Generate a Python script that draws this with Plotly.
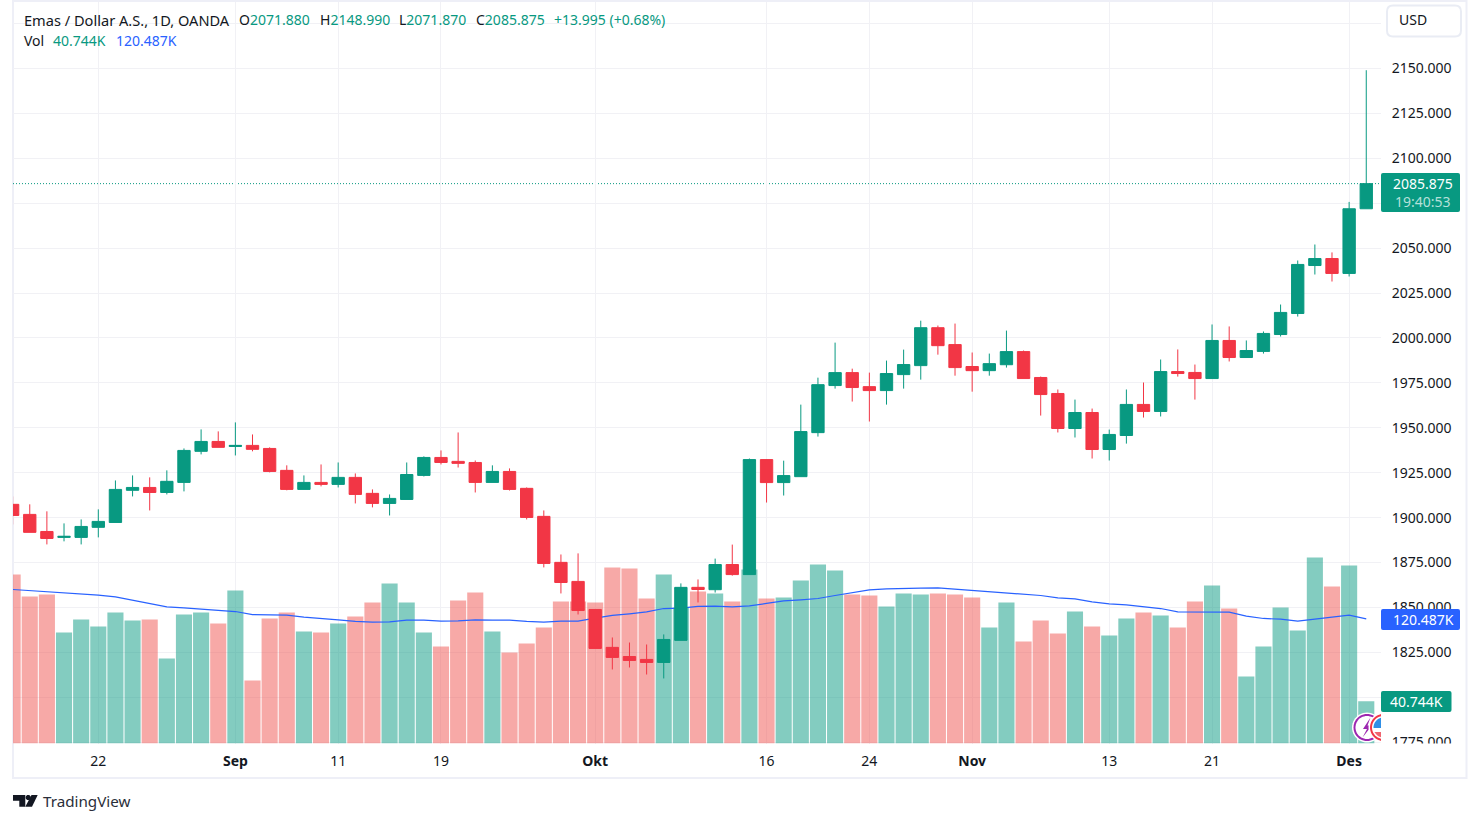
import numpy as np
import pandas as pd
import plotly.graph_objects as go

# daily gold candles
dates = pd.bdate_range("2023-08-15", periods=80).strftime("%Y-%m-%d").tolist()

opens = [
    1907.4, 1901.8, 1892.3, 1889.0, 1889.0, 1894.6, 1897.3, 1915.2, 1916.8, 1914.0,
    1919.6, 1936.9, 1942.4, 1939.6, 1940.2, 1938.5, 1926.3, 1915.7, 1919.6, 1918.5,
    1922.4, 1913.5, 1907.9, 1910.1, 1923.5, 1933.5, 1931.3, 1930.7, 1919.6, 1925.7,
    1916.3, 1900.7, 1875.1, 1864.5, 1848.9, 1827.8, 1822.7, 1821.1, 1819.4, 1831.7,
    1861.2, 1859.9, 1873.9, 1868.3, 1932.3, 1919.5, 1922.8, 1947.3, 1973.5, 1980.7,
    1972.9, 1970.7, 1979.6, 1984.6, 2005.7, 1996.3, 1984.1, 1981.8, 1985.1, 1992.4,
    1978.0, 1969.1, 1949.6, 1958.5, 1937.9, 1945.7, 1963.0, 1959.1, 1981.3, 1980.8,
    1977.4, 1998.6, 1989.1, 1992.5, 2001.9, 2013.6, 2040.3, 2044.2, 2035.9, 2071.88,
]
highs = [
    1911.8, 1907.4, 1903.5, 1896.8, 1899.0, 1904.6, 1920.7, 1923.5, 1922.4, 1926.3,
    1938.5, 1949.1, 1948.0, 1953.0, 1946.3, 1939.1, 1929.1, 1923.5, 1929.6, 1930.7,
    1924.6, 1915.7, 1912.9, 1930.7, 1934.1, 1937.4, 1947.4, 1931.8, 1929.1, 1927.4,
    1916.8, 1904.0, 1879.5, 1880.1, 1848.9, 1833.3, 1830.5, 1829.4, 1835.0, 1863.4,
    1865.6, 1877.2, 1885.0, 1932.9, 1932.3, 1931.7, 1962.9, 1977.9, 1997.4, 1982.9,
    1980.7, 1987.4, 1993.5, 2009.6, 2006.9, 2008.0, 1991.9, 1991.3, 2004.1, 1993.0,
    1978.5, 1971.3, 1965.7, 1960.7, 1949.0, 1971.3, 1975.2, 1988.0, 1993.6, 1985.2,
    2007.5, 2006.4, 1998.6, 2003.6, 2018.6, 2043.1, 2052.0, 2047.6, 2075.7, 2148.99,
]
lows = [
    1896.2, 1891.8, 1885.1, 1886.8, 1885.1, 1889.0, 1897.3, 1911.8, 1904.0, 1912.9,
    1914.6, 1935.2, 1939.1, 1934.6, 1936.9, 1925.2, 1915.2, 1915.7, 1917.4, 1916.8,
    1907.9, 1905.7, 1901.2, 1910.1, 1922.9, 1929.6, 1927.9, 1914.0, 1919.6, 1915.1,
    1899.0, 1872.3, 1857.8, 1846.1, 1827.2, 1815.5, 1816.6, 1812.7, 1810.5, 1831.7,
    1852.8, 1858.3, 1867.7, 1868.3, 1908.4, 1912.3, 1922.8, 1945.1, 1971.8, 1964.6,
    1953.5, 1962.9, 1971.8, 1976.8, 1990.7, 1979.0, 1970.1, 1979.0, 1983.5, 1977.4,
    1956.8, 1947.4, 1944.6, 1932.9, 1931.8, 1941.2, 1955.7, 1956.3, 1978.5, 1965.7,
    1977.4, 1986.9, 1989.1, 1991.3, 2000.8, 2011.9, 2035.3, 2031.4, 2034.2, 2071.87,
]
closes = [
    1901.2, 1891.8, 1888.4, 1889.6, 1895.1, 1897.9, 1915.7, 1916.8, 1914.0, 1920.2,
    1937.4, 1942.4, 1939.1, 1940.2, 1938.0, 1925.7, 1915.7, 1919.6, 1918.5, 1922.4,
    1912.9, 1907.9, 1910.7, 1924.0, 1933.5, 1930.7, 1930.2, 1919.6, 1925.7, 1915.7,
    1900.1, 1874.5, 1863.9, 1848.3, 1827.2, 1822.2, 1820.5, 1819.4, 1832.2, 1861.2,
    1860.0, 1873.9, 1868.3, 1932.3, 1919.5, 1923.4, 1947.9, 1974.0, 1980.7, 1972.4,
    1970.7, 1980.2, 1985.2, 2005.7, 1995.7, 1983.5, 1981.8, 1985.7, 1992.4, 1977.4,
    1968.5, 1949.6, 1958.5, 1937.9, 1946.3, 1963.0, 1959.1, 1981.3, 1980.2, 1977.4,
    1998.6, 1989.1, 1993.0, 2002.5, 2014.2, 2040.9, 2044.2, 2035.9, 2071.9, 2085.875,
]
# volume and its moving average, in thousands
volume = [
    163.3, 142.0, 144.0, 107.2, 119.8, 113.0, 126.6, 118.8, 119.8, 82.1,
    124.6, 126.6, 115.9, 147.8, 60.9, 120.8, 126.6, 108.2, 107.2, 115.9,
    122.7, 136.2, 154.6, 136.2, 107.2, 93.7, 138.2, 145.9, 108.2, 87.9,
    96.6, 112.1, 137.2, 137.2, 136.2, 170.0, 169.1, 140.1, 163.3, 131.4,
    146.9, 144.9, 137.2, 168.1, 140.1, 141.1, 157.5, 172.9, 167.1, 144.0,
    143.0, 132.4, 144.9, 144.0, 144.9, 144.0, 141.1, 112.1, 136.2, 98.6,
    118.8, 106.3, 127.5, 113.0, 104.3, 120.8, 126.6, 123.7, 112.1, 137.2,
    152.7, 130.4, 64.7, 93.7, 131.4, 109.2, 179.7, 151.7, 172.0, 40.744,
]
volume_ma = [
    148.8, 147.8, 146.9, 145.6, 144.3, 143.3, 141.7, 138.5, 135.3, 132.0,
    131.1, 129.8, 128.5, 127.5, 124.6, 124.0, 124.0, 122.1, 121.1, 119.5,
    117.9, 117.2, 117.6, 119.2, 119.2, 118.2, 118.5, 119.5, 119.2, 119.2,
    117.9, 117.2, 118.2, 118.2, 121.1, 123.7, 125.3, 127.2, 130.4, 130.8,
    132.4, 132.7, 132.0, 133.0, 135.3, 137.8, 138.8, 140.1, 143.0, 145.6,
    148.5, 149.4, 149.4, 150.1, 150.4, 149.1, 148.1, 146.9, 145.6, 144.3,
    143.0, 140.7, 139.8, 136.9, 134.9, 134.0, 132.4, 130.4, 127.2, 126.9,
    126.9, 126.9, 123.0, 120.8, 120.1, 118.2, 120.1, 122.4, 124.0, 120.487,
]

time_ticks = ["2023-08-22", "2023-09-01", "2023-09-11", "2023-09-19", "2023-10-02", "2023-10-16",
              "2023-10-24", "2023-11-01", "2023-11-13", "2023-11-21", "2023-12-01"]
time_labels = ["22", "<b>Sep</b>", "11", "19", "<b>Okt</b>", "16", "24", "<b>Nov</b>", "13", "21", "<b>Des</b>"]
price_ticks = [1775, 1800, 1825, 1850, 1875, 1900, 1925, 1950, 1975, 2000, 2025, 2050, 2075, 2100, 2125, 2150, 2175]
price_labels = ["1775.000", "", "1825.000", "1850.000", "1875.000", "1900.000", "1925.000", "1950.000", "1975.000",
                "2000.000", "2025.000", "2050.000", "", "2100.000", "2125.000", "2150.000", ""]

GREEN = "#089981"
RED = "#f23645"
BLUE = "#2962ff"
GRID = "#f1f1f5"
FRAME = "#eeeff7"
INK = "#131722"
FONT = "Noto Sans"

W = 1480
H = 823
# the page came out 815px tall in the last shot, paper fractions go by that
PAGE_H = 815


def px(x):
    return x / W


def py(y):
    return 1 - y / PAGE_H


def poly(points):
    return "M " + " L ".join(f"{px(x):.5f},{py(y):.5f}" for x, y in points) + " Z"


def disc(cx, cy, r, xmax=1381, ymin=0, ymax=900):
    t = np.linspace(0, 2 * np.pi, 49)[:-1]
    return poly([(min(cx + r * np.cos(a), xmax), min(max(cy + r * np.sin(a), ymin), ymax)) for a in t])


def rounded(x0, y0, x1, y1, r):
    return (f"M {px(x0 + r)},{py(y0)} L {px(x1 - r)},{py(y0)} Q {px(x1)},{py(y0)} {px(x1)},{py(y0 + r)} "
            f"L {px(x1)},{py(y1 - r)} Q {px(x1)},{py(y1)} {px(x1 - r)},{py(y1)} "
            f"L {px(x0 + r)},{py(y1)} Q {px(x0)},{py(y1)} {px(x0)},{py(y1 - r)} "
            f"L {px(x0)},{py(y0 + r)} Q {px(x0)},{py(y0)} {px(x0 + r)},{py(y0)} Z")


bar_colors = ["rgba(8,153,129,0.5)" if c >= o else "rgba(239,83,80,0.5)" for o, c in zip(opens, closes)]

fig = go.Figure()
fig.add_trace(go.Bar(x=dates, y=volume, marker=dict(color=bar_colors, line=dict(width=0)), yaxis="y", showlegend=False))
fig.add_trace(go.Scatter(x=dates, y=volume_ma, mode="lines", line=dict(color=BLUE, width=1.2), yaxis="y", showlegend=False))
fig.add_trace(go.Candlestick(
    x=dates, open=opens, high=highs, low=lows, close=closes, yaxis="y2", whiskerwidth=0, showlegend=False,
    increasing=dict(line=dict(color=GREEN, width=1), fillcolor=GREEN),
    decreasing=dict(line=dict(color=RED, width=1), fillcolor=RED),
))

shapes = [
    dict(type="rect", xref="paper", yref="paper", x0=px(13), x1=px(1466.5), y0=py(778), y1=py(1),
         line=dict(color=FRAME, width=2), layer="below"),
    dict(type="line", xref="paper", yref="y2", x0=px(13), x1=px(1381), y0=closes[-1], y1=closes[-1],
         line=dict(color=GREEN, width=1, dash="1px,2px"), layer="below"),
    # hides the lower half of the 1775.000 label, as the time scale does
    dict(type="rect", xref="paper", yref="paper", x0=px(1381), x1=px(1465), y0=py(756), y1=py(743.5),
         fillcolor="white", line=dict(width=0)),
    dict(type="path", xref="paper", yref="paper", path=rounded(1387, 5.5, 1461, 36.5, 6),
         fillcolor="white", line=dict(color="#e9ecf4", width=2)),
]
# event badges at the bottom right
for path, fill in [
    (disc(1367, 727.5, 15), "white"),
    (disc(1367, 727.5, 13.5), "#9c27b0"),
    (disc(1367, 727.5, 11.5), "white"),
    (poly([(1370.5, 717.5), (1363, 729), (1367, 729), (1362.5, 737.5), (1372, 725.5), (1367.5, 725.5)]), "#9c27b0"),
    (disc(1383.5, 727.5, 15), "white"),
    (disc(1383.5, 727.5, 13.5), RED),
    (disc(1383.5, 727.5, 11.5), "white"),
    (disc(1383.5, 727.5, 10, ymax=728), "#2f8fe6"),
    (disc(1383.5, 727.5, 10, ymin=732), "#f0646f"),
]:
    shapes.append(dict(type="path", xref="paper", yref="paper", path=path, fillcolor=fill, line=dict(width=0)))
# TradingView mark
for pts in [
    [(13, 795), (25.3, 795), (25.3, 806.7), (19.3, 806.7), (19.3, 800.7), (13, 800.7)],
    [(31.5, 795), (37.7, 795), (32, 806.7), (25.3, 806.7)],
]:
    shapes.append(dict(type="path", xref="paper", yref="paper", path=poly(pts), fillcolor=INK, line=dict(width=0)))
shapes.append(dict(type="path", xref="paper", yref="paper", path=disc(28.2, 797.5, 2.6, xmax=1480), fillcolor=INK, line=dict(width=0)))
# scale tags for the last close and the volume values
for x0, x1, y0, y1, fill in [
    (1381, 1460, 173, 212, GREEN),
    (1381, 1460, 609, 630, BLUE),
    (1381, 1451.5, 691, 712, GREEN),
]:
    shapes.append(dict(type="path", xref="paper", yref="paper", path=rounded(x0, y0, x1, y1, 2), fillcolor=fill, line=dict(width=0)))


def text(x, y, s, color=INK, size=14, anchor="left"):
    return dict(xref="paper", yref="paper", x=px(x), y=py(y), text=s, showarrow=False, xanchor=anchor, yanchor="middle",
                font=dict(family=FONT, size=size, color=color), borderpad=0)


annotations = [
    text(23, 20, "Emas / Dollar A.S., 1D, OANDA", size=14.6),
    text(238, 20, f"O<span style='color:{GREEN}'>2071.880</span>"),
    text(319, 20, f"H<span style='color:{GREEN}'>2148.990</span>"),
    text(398, 20, f"L<span style='color:{GREEN}'>2071.870</span>"),
    text(475, 20, f"C<span style='color:{GREEN}'>2085.875</span>"),
    text(553, 20, "+13.995 (+0.68%)", GREEN),
    text(23, 40.5, "Vol"),
    text(52, 40.5, "40.744K", GREEN),
    text(115, 40.5, "120.487K", BLUE),
    text(1398, 20, "USD"),
    text(42, 801, "TradingView", "#2a2e39", 15.2),
    text(1422.5, 183.5, "2085.875", "white", anchor="center"),
    text(1422.5, 201.5, "19:40:53", "#b5e0d9", anchor="center"),
    text(1423, 619.5, "120.487K", "white", anchor="center"),
    text(1416.5, 701.5, "40.744K", "white", anchor="center"),
]

fig.update_layout(
    width=W, height=H, margin=dict(l=0, r=0, t=0, b=0), paper_bgcolor="white", plot_bgcolor="white",
    bargap=0.06, boxgap=0.28, boxgroupgap=0, showlegend=False, font=dict(family=FONT, size=14, color=INK),
    shapes=shapes, annotations=annotations,
    xaxis=dict(
        type="category", domain=[px(13), px(1381)], range=[0.022, 79.86], rangeslider=dict(visible=False),
        tickmode="array", tickvals=time_ticks, ticktext=time_labels, showgrid=True, gridcolor=GRID, gridwidth=1,
        zeroline=False, showline=False, ticks="outside", ticklen=5, tickcolor="rgba(0,0,0,0)",
        tickfont=dict(family=FONT, size=14, color=INK),
    ),
    yaxis=dict(
        domain=[py(743.5), py(2)], range=[0, 716.4], visible=False, showgrid=False, zeroline=False, fixedrange=True,
    ),
    yaxis2=dict(
        overlaying="y", side="right", anchor="x", range=[1774.3, 2186.96], tickmode="array", tickvals=price_ticks,
        ticktext=price_labels, showgrid=True, gridcolor=GRID, gridwidth=1, zeroline=False, showline=False,
        ticks="outside", ticklen=7, tickcolor="rgba(0,0,0,0)", tickfont=dict(family=FONT, size=14, color=INK),
    ),
)

# the page's default body margin would push the figure off the window
fig.write_html("out.html", config={"displayModeBar": False}, post_script="document.body.style.margin='0';")
